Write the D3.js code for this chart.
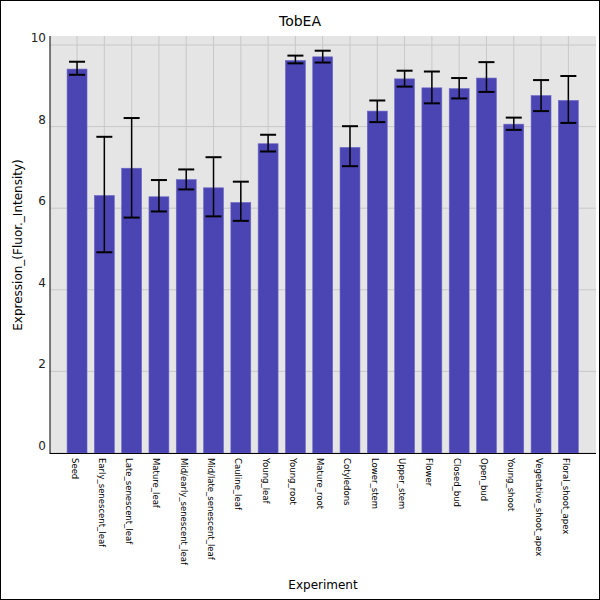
<!DOCTYPE html>
<html><head><meta charset="utf-8">
<script src="https://cdn.jsdelivr.net/npm/d3@7"></script>
<style>body{margin:0;background:#fff}svg{display:block;font-family:"DejaVu Sans",sans-serif}</style>
</head><body>
<svg id="chart" width="600" height="600"></svg>
<script>
// Data
const categories = ["Seed","Early_senescent_leaf","Late_senescent_leaf","Mature_leaf","Mid/early_senescent_leaf","Mid/late_senescent_leaf","Cauline_leaf","Young_leaf","Young_root","Mature_root","Cotyledons","Lower_stem","Upper_stem","Flower","Closed_bud","Open_bud","Young_shoot","Vegetative_shoot_apex","Floral_shoot_apex"];
const values = [9.41,6.31,6.98,6.28,6.70,6.50,6.14,7.58,9.62,9.71,7.49,8.38,9.17,8.95,8.93,9.19,8.06,8.76,8.64];
const errHigh = [9.59,7.75,8.21,6.69,6.95,7.25,6.65,7.80,9.74,9.86,8.01,8.64,9.37,9.35,9.19,9.58,8.22,9.14,9.24];
const errLow = [9.27,4.92,5.77,5.92,6.46,5.80,5.69,7.39,9.55,9.57,7.03,8.11,8.98,8.57,8.69,8.85,7.92,8.38,8.09];
const yTicks = [0,2,4,6,8,10];

const svg = d3.select("#chart");
const plot = {left: 50, right: 596, top: 36, bottom: 453};

svg.append("rect").attr("x",0.5).attr("y",0.5).attr("width",599).attr("height",599)
  .attr("fill","#fff").attr("stroke","#000");
svg.append("rect").attr("x",plot.left).attr("y",plot.top)
  .attr("width",plot.right-plot.left).attr("height",plot.bottom-plot.top).attr("fill","#e5e5e5");

const x = d3.scaleBand().domain(categories).range([63.4, 582]).paddingInner(0.27).paddingOuter(0.135);
const y = d3.scaleLinear().domain([0,10]).range([plot.bottom, plot.top + 9]);

// Grid
svg.append("g").selectAll("line").data(yTicks).join("line")
  .attr("x1",plot.left).attr("x2",plot.right).attr("y1",d=>y(d)).attr("y2",d=>y(d))
  .attr("stroke","#c8c8c8");
svg.append("g").selectAll("line").data(categories).join("line")
  .attr("x1",d=>x(d)+x.bandwidth()/2).attr("x2",d=>x(d)+x.bandwidth()/2)
  .attr("y1",plot.top).attr("y2",plot.bottom).attr("stroke","#c8c8c8");

// Bars
svg.append("g").selectAll("rect").data(categories).join("rect")
  .attr("x",d=>x(d)).attr("width",x.bandwidth())
  .attr("y",(d,i)=>y(values[i])).attr("height",(d,i)=>y(0)-y(values[i]))
  .attr("fill","#4b45b4").attr("stroke","#6b66c4").attr("stroke-width",0.6);

// Error bars
const eb = svg.append("g").attr("stroke","#000").attr("stroke-width",1.5);
categories.forEach((c,i)=>{
  const cx = x(c)+x.bandwidth()/2;
  eb.append("line").attr("x1",cx).attr("x2",cx).attr("y1",y(errHigh[i])).attr("y2",y(errLow[i]));
  [errHigh[i],errLow[i]].forEach(v=>eb.append("line").attr("x1",cx-8).attr("x2",cx+8).attr("y1",y(v)).attr("y2",y(v)).attr("stroke-width",2));
});

// Axes lines
svg.append("line").attr("x1",plot.left).attr("x2",plot.left).attr("y1",plot.top).attr("y2",plot.bottom+1).attr("stroke","#000");
svg.append("line").attr("x1",plot.left).attr("x2",plot.right).attr("y1",plot.bottom+0.5).attr("y2",plot.bottom+0.5).attr("stroke","#000");

// Y tick labels
svg.append("g").selectAll("text").data(yTicks).join("text")
  .attr("x",46).attr("y",d=>y(d)-3).attr("text-anchor","end").attr("font-size",12).attr("fill","#222")
  .text(d=>d);

// X labels
svg.append("g").selectAll("text").data(categories).join("text")
  .attr("transform",d=>`translate(${x(d)+x.bandwidth()/2-3},458) rotate(90)`)
  .attr("font-size",8.5).attr("dominant-baseline","middle").text(d=>d);

// Titles
svg.append("text").attr("x",300).attr("y",26).attr("text-anchor","middle").attr("font-size",14).text("TobEA");
svg.append("text").attr("x",323).attr("y",589).attr("text-anchor","middle").attr("font-size",12).text("Experiment");
svg.append("text").attr("transform","translate(22,245) rotate(-90)").attr("text-anchor","middle").attr("font-size",12).text("Expression_(Fluor._Intensity)");
</script>
</body></html>
